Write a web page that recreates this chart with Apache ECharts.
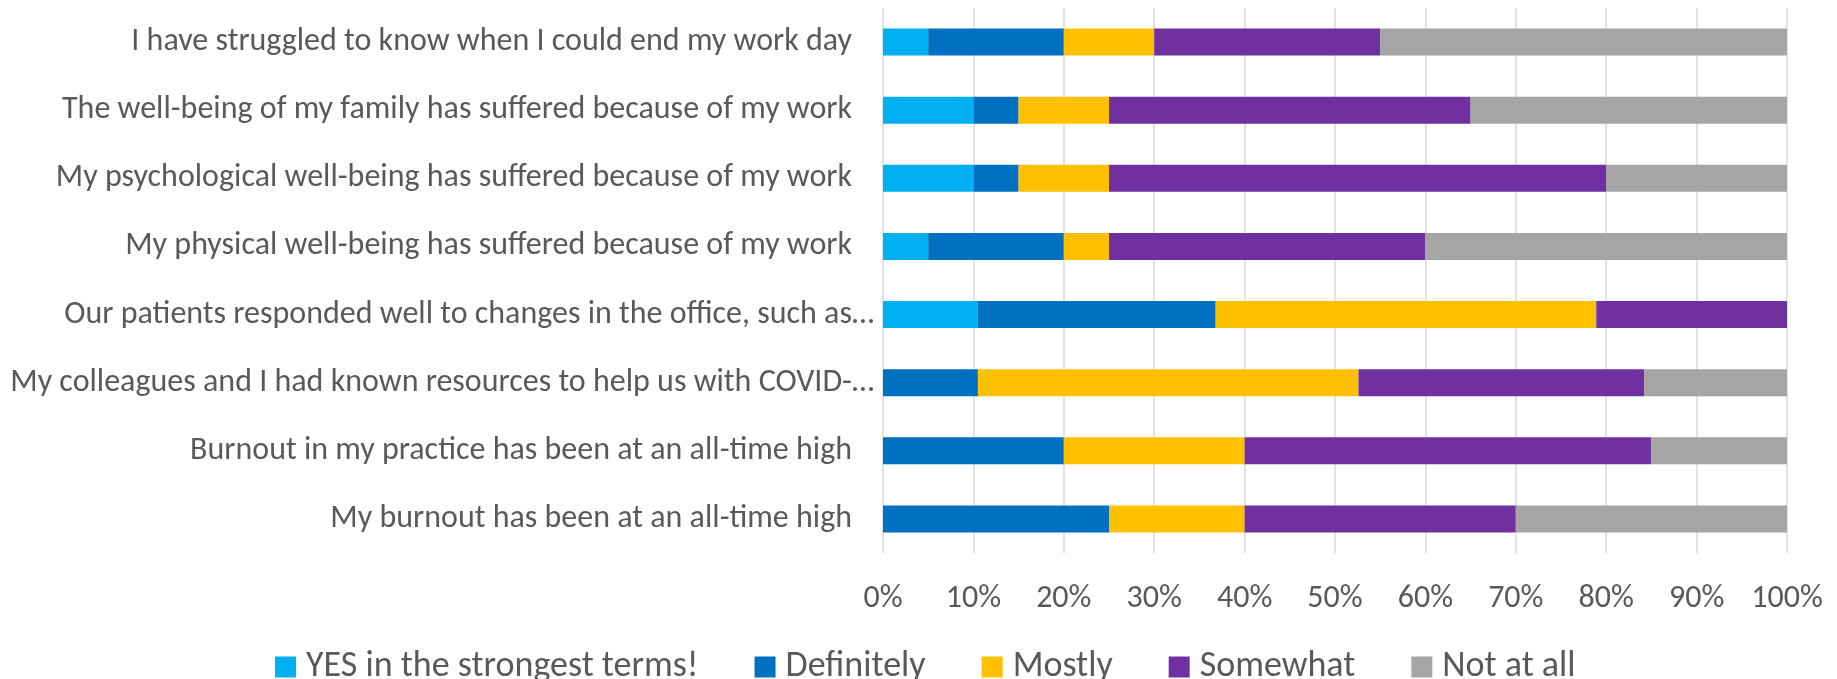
<!DOCTYPE html>
<html>
<head>
<meta charset="utf-8">
<script src="https://cdn.jsdelivr.net/npm/echarts@6/dist/echarts.min.js"></script>
<style>
html,body{margin:0;padding:0;background:#fff;}
#chart{width:1837px;height:679px;}
</style>
</head>
<body>
<div id="chart"></div>
<script>
const categories = [
  "I have struggled to know when I could end my work day",
  "The well-being of my family has suffered because of my work",
  "My psychological well-being has suffered because of my work",
  "My physical well-being has suffered because of my work",
  "Our patients responded well to changes in the office, such as…",
  "My colleagues and I had known resources to help us with COVID-…",
  "Burnout in my practice has been at an all-time high",
  "My burnout has been at an all-time high"
];
const seriesNames = ["YES in the strongest terms!", "Definitely", "Mostly", "Somewhat", "Not at all"];
const yesStrongest = [5, 10, 10, 5, 10.5, 0, 0, 0];
const definitely   = [15, 5, 5, 15, 26.3, 10.5, 20, 25];
const mostly       = [10, 10, 10, 5, 42.1, 42.1, 20, 15];
const somewhat     = [25, 40, 55, 35, 21.1, 31.6, 45, 30];
const notAtAll     = [45, 35, 20, 40, 0, 15.8, 15, 30];
const xTicks = [0, 10, 20, 30, 40, 50, 60, 70, 80, 90, 100];

const colors = ["#00B0F0", "#0070C0", "#FFC000", "#7030A0", "#A5A5A5"];
const FONT = "Carlito, 'Liberation Sans Narrow', sans-serif";

const allSeries = [yesStrongest, definitely, mostly, somewhat, notAtAll];
const chart = echarts.init(document.getElementById('chart'), null, {renderer: 'canvas'});
chart.setOption({
  animation: false,
  color: colors,
  textStyle: {fontFamily: FONT},
  grid: {left: 883, right: 50, top: 8, bottom: 126, containLabel: false, outerBoundsMode: 'none'},
  legend: {
    top: 644,
    left: 270,
    itemWidth: 21,
    itemHeight: 21,
    itemGap: 56,
    icon: 'rect',
    textStyle: {fontSize: 36, color: '#595959', fontFamily: FONT, padding: [0, 0, 0, 5]},
    data: seriesNames
  },
  xAxis: {
    type: 'value',
    min: xTicks[0],
    max: xTicks[xTicks.length - 1],
    interval: 10,
    axisLine: {show: false},
    axisTick: {show: false},
    axisLabel: {formatter: '{value}%', fontSize: 32, color: '#595959', margin: 30, fontFamily: FONT},
    splitLine: {show: true, lineStyle: {color: '#D9D9D9', width: 1.5}}
  },
  yAxis: {
    type: 'category',
    inverse: true,
    data: categories,
    axisLine: {show: false},
    axisTick: {show: false},
    axisLabel: {
      margin: 9,
      formatter: v => v.endsWith('…') ? '{t|' + v + '}' : '{n|' + v + '}',
      rich: {
        t: {fontSize: 32, color: '#595959', fontFamily: FONT},
        n: {fontSize: 32, color: '#595959', fontFamily: FONT, padding: [0, 22, 0, 0]}
      }
    }
  },
  series: allSeries.map((d, i) => ({
    name: seriesNames[i],
    type: 'bar',
    stack: 'total',
    barWidth: 27,
    data: d
  }))
});
</script>
</body>
</html>
